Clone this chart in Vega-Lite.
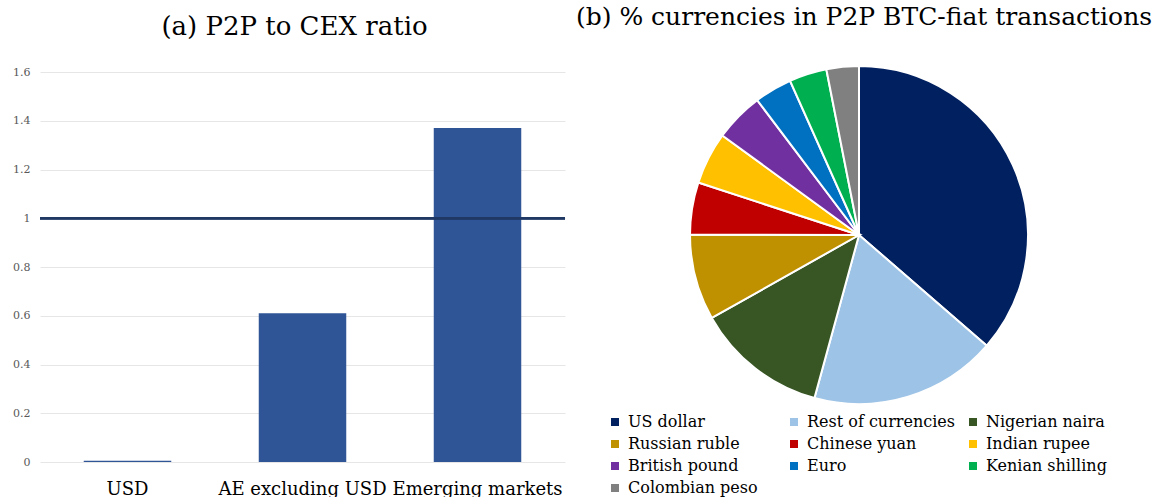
{
  "$schema": "https://vega.github.io/schema/vega-lite/v6.json",
  "background": "white",
  "padding": {"left": 12, "top": 5, "right": 0, "bottom": 0},
  "config": {"view": {"stroke": null}, "font": "DejaVu Serif"},
  "spacing": 124,
  "bounds": "flush",
  "resolve": {"scale": {"color": "independent"}, "legend": {"color": "independent"}},
  "hconcat": [
    {
      "width": 525,
      "height": 390,
      "title": {"text": "(a) P2P to CEX ratio", "fontSize": 26, "font": "DejaVu Serif", "fontWeight": "normal", "color": "black", "offset": 26, "dx": -8},
      "data": {"values": [
        {"market": "USD", "ratio": 0.005},
        {"market": "AE excluding USD", "ratio": 0.61},
        {"market": "Emerging markets", "ratio": 1.37}
      ]},
      "layer": [
        {
          "mark": {"type": "bar", "color": "#2F5597"},
          "encoding": {
            "x": {"field": "market", "type": "nominal", "sort": null,
              "scale": {"paddingInner": 0.5, "paddingOuter": 0.25},
              "axis": {"title": null, "labelAngle": 0, "labelFontSize": 18, "labelColor": "black", "labelPadding": 18, "ticks": false, "domain": false, "labelFont": "DejaVu Serif"}},
            "y": {"field": "ratio", "type": "quantitative",
              "scale": {"domain": [0, 1.6]},
              "axis": {"title": null, "values": [0, 0.2, 0.4, 0.6, 0.8, 1, 1.2, 1.4, 1.6], "format": "~g", "gridColor": "#E6E6E6", "labelFontSize": 11, "labelColor": "#595959", "domain": false, "ticks": false, "labelPadding": 10, "labelFont": "DejaVu Serif"}}
          }
        },
        {
          "mark": {"type": "rule", "color": "#1F3864", "strokeWidth": 2.5},
          "encoding": {"y": {"datum": 1}}
        }
      ]
    },
    {
      "width": 340,
      "height": 326,
      "title": {"text": "(b) % currencies in P2P BTC-fiat transactions", "fontSize": 25, "font": "DejaVu Serif", "fontWeight": "normal", "color": "black", "offset": 32, "dx": 5},
      "data": {"values": [
        {"currency": "US dollar", "share": 36.4, "order": 1},
        {"currency": "Rest of currencies", "share": 17.9, "order": 2},
        {"currency": "Nigerian naira", "share": 12.6, "order": 3},
        {"currency": "Russian ruble", "share": 8.2, "order": 4},
        {"currency": "Chinese yuan", "share": 5.0, "order": 5},
        {"currency": "Indian rupee", "share": 5.0, "order": 6},
        {"currency": "British pound", "share": 4.7, "order": 7},
        {"currency": "Euro", "share": 3.6, "order": 8},
        {"currency": "Kenian shilling", "share": 3.6, "order": 9},
        {"currency": "Colombian peso", "share": 3.1, "order": 10}
      ]},
      "mark": {"type": "arc", "radius": 169, "stroke": "white", "strokeWidth": 2},
      "encoding": {
        "theta": {"field": "share", "type": "quantitative", "stack": true},
        "order": {"field": "order", "type": "quantitative"},
        "color": {"field": "currency", "type": "nominal",
          "scale": {
            "domain": ["US dollar", "Rest of currencies", "Nigerian naira", "Russian ruble", "Chinese yuan", "Indian rupee", "British pound", "Euro", "Kenian shilling", "Colombian peso"],
            "range": ["#002060", "#9DC3E6", "#375623", "#BF9000", "#C00000", "#FFC000", "#7030A0", "#0070C0", "#00B050", "#808080"]
          },
          "legend": {"title": null, "orient": "none", "direction": "horizontal", "legendX": -82, "legendY": 342, "columns": 3, "symbolType": "square", "symbolSize": 64, "symbolStrokeWidth": 0, "labelFontSize": 16, "labelFont": "DejaVu Serif", "labelColor": "black", "gridAlign": "all", "columnPadding": 10, "rowPadding": 6, "labelLimit": 250, "labelOffset": 5}
        }
      }
    }
  ]
}
